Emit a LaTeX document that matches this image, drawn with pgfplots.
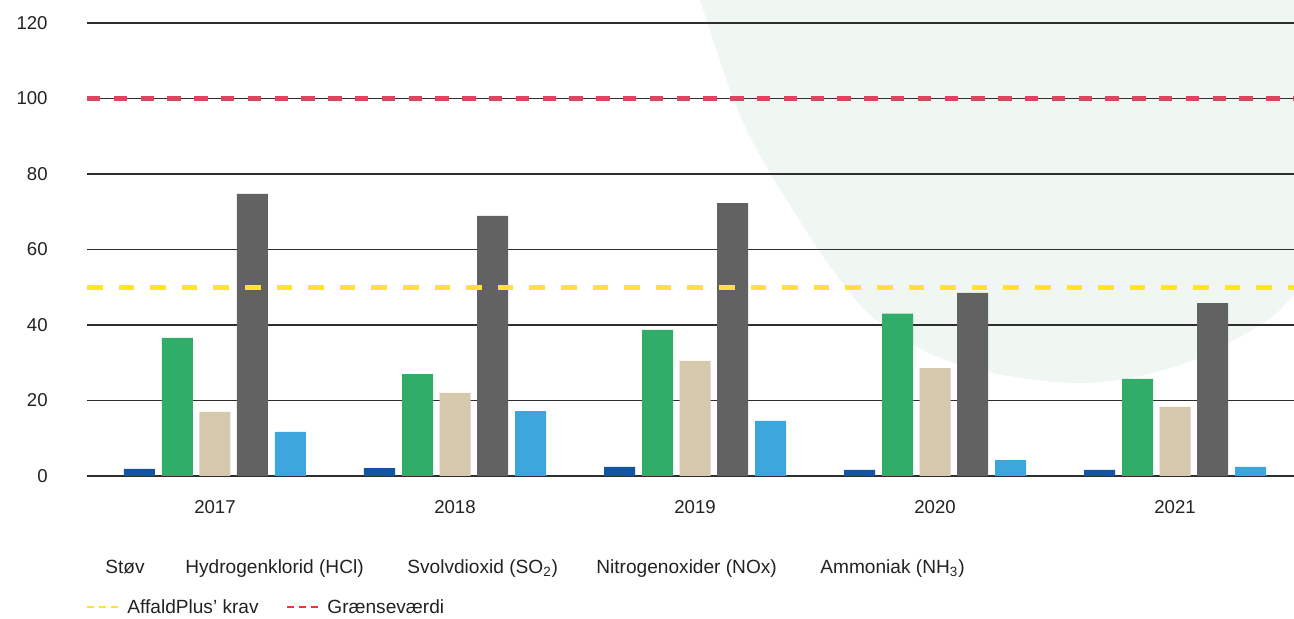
\documentclass[border=0pt]{standalone}
\usepackage{fontspec}
\setmainfont{Liberation Sans}
\usepackage{pgfplots}
\pgfplotsset{compat=1.18}
\definecolor{cStov}{HTML}{1256A3}
\definecolor{cHCl}{HTML}{2FAD69}
\definecolor{cSO}{HTML}{D5C8AD}
\definecolor{cNOx}{HTML}{626262}
\definecolor{cNH}{HTML}{3DA6DD}
\definecolor{cYel}{HTML}{FFE233}
\definecolor{cRed}{HTML}{DC4560}
\definecolor{cLegRed}{HTML}{EE3535}
\definecolor{cBlob}{HTML}{F0F7F2}
\definecolor{cGrid}{HTML}{2E2E2E}
\definecolor{cText}{HTML}{222222}
\begin{document}
\begin{tikzpicture}[x=1pt,y=1pt]
\begin{scope}
\clip (-43.5,-71.5) rectangle (603.5,238);
\fill[cBlob] plot[smooth cycle, tension=0.6] coordinates {(300,260) (306.5,238) (327.5,178) (351.5,135.5) (376.5,98) (398,75.5) (436.5,55.5) (496.5,46.5) (546.5,55.5) (586.5,75.5) (603.5,90.5) (620,110) (640,260)};
\end{scope}
\begin{axis}[
  at={(0,0)}, anchor=south west,
  scale only axis, width=603.5pt, height=238pt,
  xmin=-0.5333, xmax=4.4958, ymin=0, ymax=126.09,
  clip=false,
  axis line style={draw=none},
  major tick length=0pt,
  tick style={draw=none},
  ytick={0,20,...,120},
  ymajorgrids,
  grid style={cGrid, line width=0.9pt},
  xtick={0,1,2,3,4},
  xticklabels={2017,2018,2019,2020,2021},
  tick label style={font=\fontsize{9.3}{11}\selectfont, text=cText},
  /pgf/number format/assume math mode=true,
  yticklabel style={anchor=east, inner sep=0pt, xshift=-19.5pt},
  xticklabel style={anchor=north, inner sep=0pt, yshift=-12.25pt},
]
\addplot[ybar, bar width=15.5pt, bar shift=-37.75pt, fill=cStov, draw=none] coordinates {(0,1.9) (1,2.1) (2,2.4) (3,1.6) (4,1.6)};
\addplot[ybar, bar width=15.5pt, bar shift=-18.75pt, fill=cHCl, draw=none] coordinates {(0,36.6) (1,27.0) (2,38.7) (3,43.0) (4,25.7)};
\addplot[ybar, bar width=15.5pt, bar shift=0pt, fill=cSO, draw=none] coordinates {(0,17.0) (1,22.0) (2,30.5) (3,28.6) (4,18.3)};
\addplot[ybar, bar width=15.5pt, bar shift=18.75pt, fill=cNOx, draw=none] coordinates {(0,74.7) (1,68.9) (2,72.3) (3,48.5) (4,45.8)};
\addplot[ybar, bar width=15.5pt, bar shift=37.75pt, fill=cNH, draw=none] coordinates {(0,11.7) (1,17.2) (2,14.6) (3,4.2) (4,2.4)};
\addplot[sharp plot, no marks, cYel, line width=2.6pt, dash pattern=on 7.8pt off 8pt] coordinates {(-0.5333,50) (4.4958,50)};
\addplot[sharp plot, no marks, cRed, line width=2.6pt, dash pattern=on 6.7pt off 6.7pt] coordinates {(-0.5333,100) (4.4958,100)};
\end{axis}
\begin{scope}[every node/.style={anchor=base west, inner sep=0pt, text=cText, font=\fontsize{9.55}{11}\selectfont}]
\node at (9,-49) {Støv};
\node at (49,-49) {Hydrogenklorid (HCl)};
\node at (160,-49) {Svolvdioxid (SO\textsubscript{2})};
\node at (254.5,-49) {Nitrogenoxider (NOx)};
\node at (366.5,-49) {Ammoniak (NH\textsubscript{3})};
\draw[cYel, line width=1pt, dash pattern=on 3.3pt off 2.8pt] (0,-65.5) -- (15.5,-65.5);
\node at (20,-69) {AffaldPlus’ krav};
\draw[cLegRed, line width=1pt, dash pattern=on 3.3pt off 2.8pt] (100,-65.5) -- (115.5,-65.5);
\node at (120,-69) {Grænseværdi};
\end{scope}
\pgfresetboundingbox
\path[use as bounding box] (-43.5,-71.5) rectangle (603.5,238);
\end{tikzpicture}
\end{document}
